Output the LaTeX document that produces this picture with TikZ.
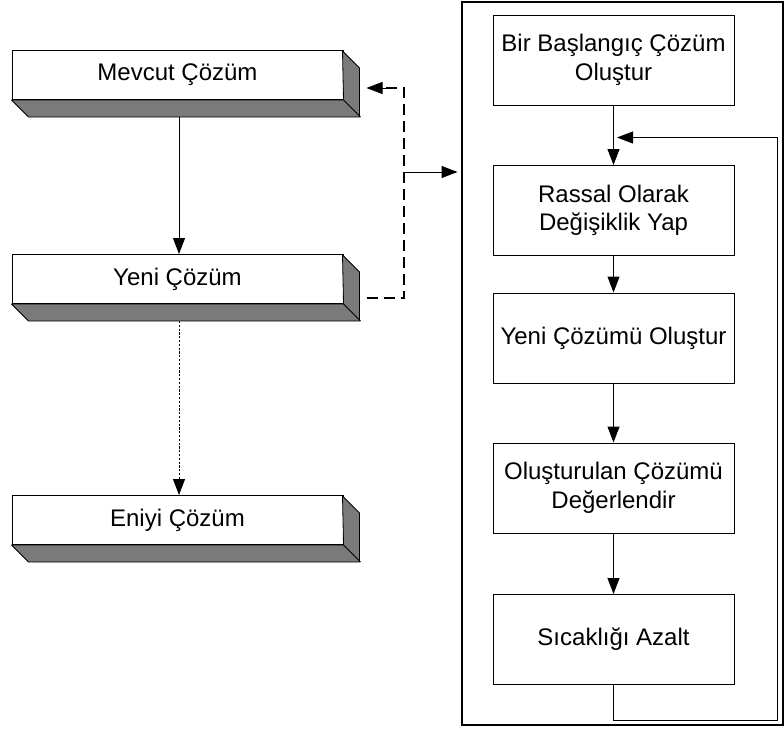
\documentclass[tikz,border=0pt]{standalone}
\usepackage{fontspec}
\setmainfont{Liberation Sans}
\usetikzlibrary{arrows.meta}
\begin{document}
\begin{tikzpicture}[x=1pt,y=-1pt,
  lbl/.style={font=\fontsize{24}{28.5}\selectfont},
  stepbox/.style={lbl, draw, line width=1pt, minimum width=241pt, minimum height=90pt,
    align=center, inner sep=0pt},
  slab/.style={lbl, draw, line width=1pt, fill=white, minimum width=331pt,
    minimum height=49pt, inner sep=0pt},
  slabside/.style={fill=black!52, draw=black, line width=0.8pt, line join=round},
  frame/.style={draw, line width=2pt, minimum width=321pt, minimum height=723pt, inner sep=0pt},
  tip/.style={-{Triangle[length=16pt,width=12pt]}},
  arr/.style={line width=1pt, tip},
  dashlink/.style={line width=1.5pt, dash pattern=on 11pt off 6pt},
  dotlink/.style={line width=0.8pt, dash pattern=on 2.2pt off 1.6pt},
]
\useasboundingbox (0,0) rectangle (784,728);

% extruded slab: bottom and right faces behind a front node
\newcommand\slabdepth[1]{%
  \draw[slabside] (#1.south west) -- ++(17,17) -- ++(331,0) -- ++(0,-49)
    -- ++(-17,-17) -- (#1.south east) -- cycle;
  \draw[line width=0.8pt] (#1.south east) -- ++(17,17);
}

% left column
\node[slab] (cur)  at (177.5,75)  {Mevcut Çözüm};
\node[slab] (new)  at (177.5,279) {Yeni Çözüm};
\node[slab] (best) at (177.5,520) {Eniyi Çözüm};
\slabdepth{cur}
\slabdepth{new}
\slabdepth{best}

\path (cur.south) ++(1.5,17) coordinate (curbase);
\path (new.south) ++(1.5,17) coordinate (newbase);
\draw[arr] (curbase) -- (curbase |- new.north);
\draw[dotlink, tip] (newbase) -- (newbase |- best.north);

% right panel
\node[frame] (panel) at (622.5,363.5) {};
\node[stepbox] (s1) at (613.5,60)    {Bir Başlangıç Çözüm\\Oluştur};
\node[stepbox] (s2) at (613.5,210.5) {Rassal Olarak\\Değişiklik Yap};
\node[stepbox] (s3) at (613.5,338)   {Yeni Çözümü Oluştur};
\node[stepbox] (s4) at (613.5,488)   {Oluşturulan Çözümü\\Değerlendir};
\node[stepbox] (s5) at (613.5,639.5) {Sıcaklığı Azalt};

\draw[arr] (s1) -- (s2);
\draw[arr] (s2) -- (s3);
\draw[arr] (s3) -- (s4);
\draw[arr] (s4) -- (s5);

% loop back from the last step
\path (s1.south) ++(0,32) coordinate (merge);
\coordinate (loopcorner) at (777,720);
\draw[arr, shorten >=3.5pt] (s5.south) -- (s5.south |- loopcorner) -- (loopcorner)
  -- (loopcorner |- merge) -- (merge);

% dashed exchange between the slabs and the panel
\path (new.east) ++(23,19) coordinate (dstart);
\path (cur.east) ++(23,13) coordinate (dend);
\coordinate (rail) at (404,172);
\draw[dashlink] (dstart) -- (dstart -| rail) -- (dend -| rail) -- ++(-20,0);
\draw[arr] ([xshift=-18pt]dend -| rail) -- (dend);
\draw[arr, shorten >=3.5pt] (rail) -- (rail -| panel.west);
\end{tikzpicture}
\end{document}
